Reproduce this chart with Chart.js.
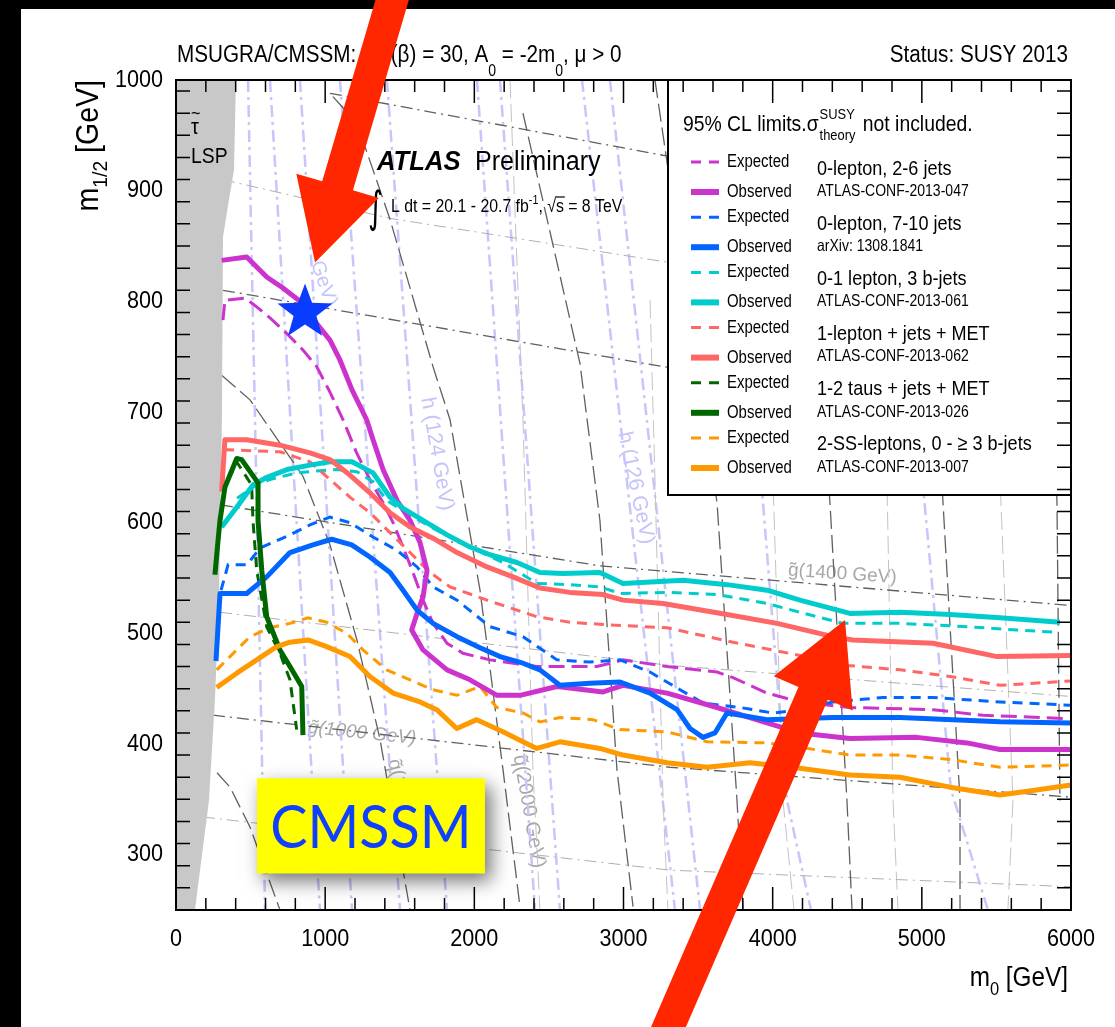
<!DOCTYPE html>
<html>
<head>
<meta charset="utf-8">
<title>ATLAS MSUGRA/CMSSM limits</title>
<script src="https://cdn.jsdelivr.net/npm/chart.js@4.4.1/dist/chart.umd.min.js"></script>
<style>
  html, body { margin: 0; padding: 0; background: #000; }
  canvas { display: block; }
</style>
</head>
<body>
<canvas id="limitChart" width="1115" height="1027"></canvas>
<script>
// [m0, m1/2] in GeV
const exp0lep26 = [[315,783],[328,801],[463,803],[541,795],[630,785],[742,771],[851,756],[943,741],[1032,718],[1120,693],[1211,663],[1300,639],[1388,618],[1455,600],[1522,578],[1589,555],[1656,530],[1723,509],[1817,491],[1924,482],[2105,476],[2420,470],[2822,470],[2997,476],[3292,470],[3627,465],[3734,460],[3962,446],[4183,438],[4518,433],[5075,431],[5410,426],[5973,423]];
const obs0lep26 = [[306,837],[474,840],[608,822],[717,812],[851,798],[943,780],[1032,765],[1099,747],[1180,720],[1278,693],[1321,675],[1388,648],[1482,620],[1569,602],[1636,582],[1683,557],[1656,533],[1616,518],[1580,503],[1656,485],[1817,467],[1971,458],[2152,444],[2306,444],[2554,452],[2863,447],[2997,453],[3292,446],[3627,433],[3962,419],[4183,410],[4518,405],[4967,406],[5303,401],[5524,395],[6000,395]];
const exp7to10 = [[302,539],[349,562],[476,562],[563,577],[764,589],[898,598],[1032,605],[1166,600],[1321,587],[1482,575],[1616,560],[1723,542],[1884,530],[2105,506],[2326,497],[2554,476],[2775,474],[2977,476],[3178,465],[3379,449],[3533,437],[3781,433],[4002,428],[4183,431],[4404,438],[4740,442],[5075,442],[5524,438],[6000,435]];
const obs7to10 = [[268,475],[295,536],[474,536],[608,551],[764,573],[918,580],[1044,585],[1178,580],[1300,569],[1435,555],[1522,539],[1616,521],[1723,509],[1884,497],[2038,487],[2172,479],[2326,473],[2440,467],[2574,453],[2775,455],[2977,456],[3178,446],[3359,431],[3446,414],[3533,406],[3613,410],[3694,428],[3962,422],[4404,424],[4854,424],[5524,420],[6000,419]];
const exp3b = [[410,622],[516,632],[630,639],[811,645],[965,647],[1079,648],[1213,646],[1321,637],[1414,620],[1569,607],[1750,593],[1971,578],[2192,564],[2420,545],[2641,544],[2842,542],[2977,536],[3292,537],[3627,535],[3962,527],[4183,519],[4471,509],[4854,509],[5303,506],[5638,503],[5906,501]];
const obs3b = [[306,596],[407,614],[516,634],[610,641],[744,648],[898,652],[1032,655],[1180,655],[1321,645],[1435,623],[1522,613],[1656,602],[1817,589],[1971,578],[2105,571],[2286,564],[2440,555],[2594,554],[2842,555],[2997,545],[3399,548],[3694,544],[3962,539],[4183,530],[4518,518],[4854,519],[5189,517],[5524,514],[5926,510]];
const exp1lep = [[315,650],[328,666],[697,664],[898,655],[1032,639],[1166,623],[1300,609],[1435,591],[1569,573],[1703,555],[1837,542],[2085,530],[2239,523],[2420,515],[2641,510],[2863,508],[3292,505],[3734,492],[4183,480],[4498,471],[4854,467],[5189,461],[5524,453],[6000,457]];
const obs1lep = [[306,628],[328,675],[474,675],[697,670],[898,663],[1032,657],[1166,643],[1300,627],[1435,609],[1569,596],[1723,586],[1884,573],[2085,560],[2259,551],[2440,541],[2641,537],[2863,535],[2997,530],[3265,527],[3694,517],[4029,509],[4404,497],[4538,494],[5075,491],[5504,479],[6000,480]];
const exp1tau = [[310,610],[328,636],[373,645],[407,655],[507,634],[516,602],[541,557],[608,506],[697,482],[764,458],[809,413]];
const obs1tau = [[261,553],[282,584],[295,602],[328,632],[407,658],[440,657],[550,636],[550,602],[575,557],[608,515],[697,485],[764,470],[843,452],[851,408]];
const exp2ss = [[273,467],[362,479],[496,497],[630,505],[764,509],[885,514],[1010,510],[1144,500],[1254,485],[1412,467],[1569,458],[1723,449],[1882,444],[2038,452],[2150,433],[2326,428],[2440,420],[2574,424],[2795,422],[2977,413],[3292,411],[3560,402],[3962,401],[4183,397],[4518,390],[4854,390],[5189,386],[5524,379],[6000,381]];
const obs2ss = [[273,451],[407,464],[541,476],[675,488],[764,492],[885,494],[1010,488],[1166,479],[1300,461],[1455,446],[1636,438],[1748,431],[1882,414],[2016,422],[2192,411],[2326,402],[2418,396],[2574,402],[2842,396],[2997,390],[3292,383],[3560,379],[3848,383],[4183,378],[4518,372],[4854,370],[5189,361],[5524,354],[5745,358],[6000,363]];

// stau LSP region boundary (filled up to the top)
const lspBoundary = [[0,250],[127,250],[221,349],[261,440],[288,530],[308,693],[315,858],[349,887],[389,919],[402,1000]];

// background mass contours
const higgsContours = [
  [[483,1000],[597,250]], [[630,1000],[965,250]], [[831,1000],[1180,250]],
  [[1099,1000],[1502,250]], [[1414,1000],[1817,250]], [[2018,1000],[2407,250]],
  [[2172,1000],[2574,250]], [[2722,1000],[3345,250]], [[2909,1000],[3513,250]],
  [[3707,1000],[3935,618],[4096,349],[4257,250]],
  [[4760,1000],[5021,614],[5195,359],[5443,250]]
];
const squarkContours = [
  [[275,374],[362,361],[496,325],[697,250]],
  [[308,733],[496,711],[851,642],[1032,580],[1213,494],[1368,404],[1569,250]],
  [[1052,985],[1213,961],[1435,874],[1723,741],[1837,693],[2038,539],[2192,377],[2306,253]],
  [[2326,970],[2708,744],[2842,602],[2956,377],[3064,253]],
  [[3211,1000],[3627,618],[3761,349],[3801,250]],
  [[4183,1000],[4384,618],[4498,349],[4532,250]],
  [[4988,1000],[5142,618],[5256,349],[5256,250]],
  [[5826,1000],[5906,618],[5926,349]]
];
const gluinoContours = [
  [[1032,988],[3265,932],[6000,878]],
  [[315,810],[3265,741],[6000,693]],
  [[302,616],[2842,561],[5926,526],[6000,525]],
  [[248,426],[3312,379],[6000,352]]
];
const faintDashDot = [
  [[315,910],[1435,875],[3265,836],[6000,792]],
  [[295,519],[3312,471],[5993,443]],
  [[181,334],[3312,286],[6000,271]]
];
const faintDash = [
  [[2239,1000],[2326,693],[2393,377],[2440,250]],
  [[3178,801],[3211,639],[3265,349],[3298,250]],
  [[3915,1000],[4002,639],[4069,349],[4143,250]],
  [[4686,1000],[4766,639],[4807,349],[4840,250]],
  [[5490,1000],[5524,639],[5611,349],[5577,250]]
];

const seriesColors = ["#cc33cc", "#0066ff", "#00cccc", "#ff6666", "#006600", "#ff9900"];
const analysisNames = ["0-lepton, 2-6 jets", "0-lepton, 7-10 jets", "0-1 lepton, 3 b-jets",
  "1-lepton + jets + MET", "1-2 taus + jets + MET", "2-SS-leptons, 0 - \u2265 3 b-jets"];
const analysisRefs = ["ATLAS-CONF-2013-047", "arXiv: 1308.1841", "ATLAS-CONF-2013-061",
  "ATLAS-CONF-2013-062", "ATLAS-CONF-2013-026", "ATLAS-CONF-2013-007"];
const expectedCurves = [exp0lep26, exp7to10, exp3b, exp1lep, exp1tau, exp2ss];
const observedCurves = [obs0lep26, obs7to10, obs3b, obs1lep, obs1tau, obs2ss];

const xTickLabels = [0, 1000, 2000, 3000, 4000, 5000, 6000];
const yTickLabels = [300, 400, 500, 600, 700, 800, 900, 1000];
const xMinorStep = 200;
const yMinorStep = 20;

// annotation anchors, in [m0, m1/2]
const benchmarkStar = [865, 790];
const arrowTopLeft = { tail: [1468, 1081], tip: [932, 835] };
const arrowBottom = { tail: [3278, 137], tip: [4485, 512] };
const cmssmBox = { from: [543, 369], to: [2071, 283] };

const contourLabels = [
  { text: "g\u0303(1000 GeV)", at: [885, 415], angle: 6, color: "#a8a8a8", italic: true, size: 19 },
  { text: "g\u0303(1400 GeV)", at: [4103, 557], angle: 4, color: "#a8a8a8", italic: false, size: 19 },
  { text: "q\u0303(2000 GeV)", at: [2299, 390], angle: 80, color: "#a8a8a8", italic: false, size: 20 },
  { text: "q\u0303(1600 GeV)", at: [1455, 386], angle: 76, color: "#a8a8a8", italic: false, size: 20 },
  { text: "h (124 GeV)", at: [1683, 713], angle: 80, color: "#c4c4fa", italic: false, size: 21 },
  { text: "h (126 GeV)", at: [3003, 682], angle: 78, color: "#c4c4fa", italic: false, size: 21 },
  { text: "GeV)", at: [939, 836], angle: 71, color: "#c4c4fa", italic: false, size: 20 }
];

const FONT = '"Liberation Sans", Arial, Helvetica, sans-serif';

function toPts(arr) {
  return arr.map(p => ({ x: p[0], y: p[1] }));
}

// condensed text, like the narrow Helvetica of the original
function txt(ctx, s, x, y, font, sx, align) {
  ctx.save();
  ctx.font = font;
  const w = ctx.measureText(s).width * sx;
  const x0 = align === "right" ? x - w : align === "center" ? x - w / 2 : x;
  ctx.translate(x0, y);
  ctx.scale(sx, 1);
  ctx.textAlign = "left";
  ctx.fillText(s, 0, 0);
  ctx.restore();
  return x0 + w;
}

function richText(ctx, parts, x, y, size, align, subShift, sx) {
  sx = sx || 1;
  const items = parts.map(p => {
    const mode = p[1] || "";
    const s = mode ? size * 0.68 : size;
    ctx.font = `${s}px ${FONT}`;
    return { t: p[0], mode: mode, s: s, w: ctx.measureText(p[0]).width * sx };
  });
  const total = items.reduce((a, it) => a + it.w, 0);
  let cx = align === "right" ? x - total : align === "center" ? x - total / 2 : x;
  ctx.textBaseline = "alphabetic";
  items.forEach(it => {
    const dy = it.mode === "sub" ? size * subShift : it.mode === "sup" ? -size * 0.42 : 0;
    txt(ctx, it.t, cx, y + dy, `${it.s}px ${FONT}`, sx, "left");
    cx += it.w;
  });
  return cx;
}

function drawArrow(ctx, x0, y0, x1, y1, shaftW, headL, headW) {
  const L = Math.hypot(x1 - x0, y1 - y0);
  const ux = (x1 - x0) / L, uy = (y1 - y0) / L;
  const nx = -uy, ny = ux;
  const bx = x1 - ux * headL, by = y1 - uy * headL;
  ctx.beginPath();
  ctx.moveTo(x0 + nx * shaftW / 2, y0 + ny * shaftW / 2);
  ctx.lineTo(bx + nx * shaftW / 2, by + ny * shaftW / 2);
  ctx.lineTo(bx + nx * headW / 2, by + ny * headW / 2);
  ctx.lineTo(x1, y1);
  ctx.lineTo(bx - nx * headW / 2, by - ny * headW / 2);
  ctx.lineTo(bx - nx * shaftW / 2, by - ny * shaftW / 2);
  ctx.lineTo(x0 - nx * shaftW / 2, y0 - ny * shaftW / 2);
  ctx.closePath();
  ctx.fill();
}

function drawStar(ctx, cx, cy, R, r) {
  ctx.beginPath();
  for (let i = 0; i < 10; i++) {
    const a = -Math.PI / 2 + i * Math.PI / 5;
    const rad = i % 2 ? r : R;
    ctx.lineTo(cx + rad * Math.cos(a), cy + rad * Math.sin(a));
  }
  ctx.closePath();
  ctx.fill();
}

const backdropPlugin = {
  id: "backdrop",
  beforeDraw(chart) {
    const ctx = chart.ctx;
    ctx.save();
    ctx.fillStyle = "#000";
    ctx.fillRect(0, 0, chart.width, chart.height);
    ctx.fillStyle = "#fff";
    ctx.fillRect(21, 9, chart.width - 21, chart.height - 9);
    ctx.restore();
  },
  beforeDatasetsDraw(chart) {
    const { ctx, chartArea: a, scales: { x, y } } = chart;
    ctx.save();
    ctx.beginPath();
    ctx.rect(a.left, a.top, a.width, a.height);
    ctx.clip();
    contourLabels.forEach(l => {
      ctx.save();
      ctx.translate(x.getPixelForValue(l.at[0]), y.getPixelForValue(l.at[1]));
      ctx.rotate(l.angle * Math.PI / 180);
      ctx.font = `${l.italic ? "italic " : ""}${l.size}px ${FONT}`;
      ctx.fillStyle = l.color;
      ctx.textBaseline = "middle";
      ctx.fillText(l.text, 0, 0);
      ctx.restore();
    });
    ctx.restore();
  }
};

function drawLegend(ctx, a) {
  const left = 668, bottom = 495;
  ctx.save();
  ctx.fillStyle = "#fff";
  ctx.fillRect(left, a.top, a.right - left, bottom - a.top);
  ctx.strokeStyle = "#000";
  ctx.lineWidth = 2;
  ctx.strokeRect(left, a.top, a.right - left, bottom - a.top);

  ctx.fillStyle = "#000";
  ctx.textBaseline = "alphabetic";
  let cx = txt(ctx, "95% CL limits.\u03C3", 683, a.top + 51, `22.5px ${FONT}`, 0.86, "left");
  txt(ctx, "SUSY", cx + 1, a.top + 39, `15px ${FONT}`, 0.86, "left");
  cx = txt(ctx, "theory", cx + 1, a.top + 60, `15px ${FONT}`, 0.86, "left");
  txt(ctx, " not included.", cx + 2, a.top + 51, `22.5px ${FONT}`, 0.86, "left");

  seriesColors.forEach((c, i) => {
    const ye = a.top + 82 + i * 55.2;
    const yo = a.top + 112 + i * 55.2;
    ctx.strokeStyle = c;
    ctx.lineWidth = 3;
    ctx.setLineDash([10, 8]);
    ctx.beginPath();
    ctx.moveTo(691, ye);
    ctx.lineTo(719, ye);
    ctx.stroke();
    ctx.setLineDash([]);
    ctx.lineWidth = 6;
    ctx.beginPath();
    ctx.moveTo(691, yo);
    ctx.lineTo(719, yo);
    ctx.stroke();

    ctx.fillStyle = "#000";
    ctx.textBaseline = "middle";
    txt(ctx, "Expected", 727, ye, `18px ${FONT}`, 0.83, "left");
    txt(ctx, "Observed", 727, yo, `18px ${FONT}`, 0.83, "left");
    txt(ctx, analysisNames[i], 817, a.top + 89 + i * 55.1, `21px ${FONT}`, 0.86, "left");
    txt(ctx, analysisRefs[i], 817, a.top + 111 + i * 55.3, `16.5px ${FONT}`, 0.85, "left");
  });
  ctx.restore();
}

function drawFrame(ctx, a, x, y) {
  ctx.save();
  ctx.strokeStyle = "#000";
  ctx.lineWidth = 1.5;
  ctx.beginPath();
  for (let v = x.min; v <= x.max; v += xMinorStep) {
    const px = x.getPixelForValue(v);
    const len = xTickLabels.includes(v) ? 23 : 12;
    ctx.moveTo(px, a.bottom); ctx.lineTo(px, a.bottom - len);
    ctx.moveTo(px, a.top); ctx.lineTo(px, a.top + len);
  }
  for (let v = y.min; v <= y.max; v += yMinorStep) {
    const py = y.getPixelForValue(v);
    const len = yTickLabels.includes(v) ? 27 : 14;
    ctx.moveTo(a.left, py); ctx.lineTo(a.left + len, py);
    ctx.moveTo(a.right, py); ctx.lineTo(a.right - len, py);
  }
  ctx.stroke();
  ctx.lineWidth = 2;
  ctx.strokeRect(a.left, a.top, a.width, a.height);

  ctx.fillStyle = "#000";
  ctx.textBaseline = "alphabetic";
  xTickLabels.forEach(v => txt(ctx, String(v), x.getPixelForValue(v), a.bottom + 36, `24px ${FONT}`, 0.9, "center"));
  ctx.textBaseline = "middle";
  yTickLabels.forEach(v => txt(ctx, String(v), a.left - 13, y.getPixelForValue(v), `24px ${FONT}`, 0.9, "right"));

  // axis titles
  richText(ctx, [["m"], ["0", "sub"], [" [GeV]"]], a.right - 3, a.bottom + 76, 27, "right", 0.34, 0.9);
  ctx.save();
  ctx.translate(98, a.top);
  ctx.rotate(-Math.PI / 2);
  richText(ctx, [["m"], ["1/2", "sub"], [" [GeV]"]], 0, 0, 31, "right", 0.3, 0.92);
  ctx.restore();
  ctx.restore();
}

function drawTexts(ctx, a) {
  ctx.save();
  ctx.fillStyle = "#000";
  richText(ctx, [["MSUGRA/CMSSM: tan(\u03B2) = 30, A"], ["0", "sub"], [" = -2m"], ["0", "sub"], [", \u03BC > 0"]],
    a.left + 1, 62, 23.5, "left", 0.58, 0.88);
  richText(ctx, [["Status: SUSY 2013"]], a.right - 3, 62, 23.5, "right", 0, 0.88);

  ctx.textBaseline = "alphabetic";
  const tauEnd = txt(ctx, "\u03C4", 191, 134, `22px ${FONT}`, 0.9, "left");
  txt(ctx, "~", 191, 119, `18px ${FONT}`, 0.9, "left");
  txt(ctx, "LSP", 191, 163, `22px ${FONT}`, 0.88, "left");

  txt(ctx, "ATLAS", 377, 170, `italic bold 27px ${FONT}`, 0.95, "left");
  txt(ctx, "Preliminary", 475, 170, `27px ${FONT}`, 0.93, "left");

  ctx.save();
  ctx.translate(368, 222);
  ctx.scale(0.9, 1.35);
  ctx.font = `32px "DejaVu Sans", ${FONT}`;
  ctx.fillText("\u222B", 0, 0);
  ctx.restore();
  let cx = richText(ctx, [["L dt = 20.1 - 20.7 fb"], ["-1", "sup"], [", "]], 391, 212, 18, "left", 0, 0.88);
  ctx.font = `18px ${FONT}`;
  const wr = ctx.measureText("\u221A").width * 0.88;
  const ws = ctx.measureText("s").width * 0.88;
  txt(ctx, "\u221A", cx, 212, `18px ${FONT}`, 0.88, "left");
  txt(ctx, "s = 8 TeV", cx + wr, 212, `18px ${FONT}`, 0.88, "left");
  ctx.strokeStyle = "#000";
  ctx.lineWidth = 1.2;
  ctx.beginPath();
  ctx.moveTo(cx + wr - 1, 197);
  ctx.lineTo(cx + wr + ws + 1, 197);
  ctx.stroke();
  ctx.restore();
}

const overlayPlugin = {
  id: "overlay",
  afterDatasetsDraw(chart) {
    const { ctx, chartArea: a, scales: { x, y } } = chart;
    drawLegend(ctx, a);
    drawFrame(ctx, a, x, y);
    drawTexts(ctx, a);

    // CMSSM label box
    const bx0 = x.getPixelForValue(cmssmBox.from[0]), by0 = y.getPixelForValue(cmssmBox.from[1]);
    const bx1 = x.getPixelForValue(cmssmBox.to[0]), by1 = y.getPixelForValue(cmssmBox.to[1]);
    ctx.save();
    ctx.shadowColor = "rgba(0,0,0,0.55)";
    ctx.shadowBlur = 18;
    ctx.shadowOffsetX = 6;
    ctx.shadowOffsetY = 8;
    ctx.fillStyle = "#ffff00";
    ctx.fillRect(bx0, by0, bx1 - bx0, by1 - by0);
    ctx.restore();
    ctx.save();
    ctx.fillStyle = "#1040ff";
    ctx.textBaseline = "middle";
    txt(ctx, "CMSSM", (bx0 + bx1) / 2, (by0 + by1) / 2 + 3, `60px Lato, "Open Sans", sans-serif`, 0.93, "center");

    // benchmark star
    ctx.fillStyle = "#0a3cff";
    drawStar(ctx, x.getPixelForValue(benchmarkStar[0]), y.getPixelForValue(benchmarkStar[1]), 29, 12);

    // red arrows
    ctx.fillStyle = "#ff2600";
    [arrowTopLeft, arrowBottom].forEach(ar => {
      drawArrow(ctx,
        x.getPixelForValue(ar.tail[0]), y.getPixelForValue(ar.tail[1]),
        x.getPixelForValue(ar.tip[0]), y.getPixelForValue(ar.tip[1]),
        32, 80, 86);
    });
    ctx.restore();
  }
};

const datasets = [];
function addLines(list, style) {
  list.forEach(c => datasets.push(Object.assign({ data: toPts(c) }, style)));
}
addLines(higgsContours, { borderColor: "#c6c6fb", borderWidth: 2.5, borderDash: [12, 5, 3, 5], order: 60 });
addLines(faintDash, { borderColor: "#c4c4c4", borderWidth: 1, borderDash: [18, 6], order: 59 });
addLines(faintDashDot, { borderColor: "#b0b0b0", borderWidth: 1, borderDash: [12, 5, 2, 5], order: 58 });
addLines(squarkContours, { borderColor: "#606060", borderWidth: 1.3, borderDash: [18, 6], order: 57 });
addLines(gluinoContours, { borderColor: "#606060", borderWidth: 1.3, borderDash: [12, 5, 2, 5], order: 56 });

datasets.push({
  data: toPts(lspBoundary),
  borderWidth: 0,
  borderColor: "rgba(0,0,0,0)",
  backgroundColor: "#c8c8c8",
  fill: "end",
  order: 40
});

expectedCurves.forEach((c, i) => datasets.push({
  data: toPts(c),
  borderColor: seriesColors[i],
  borderWidth: 3,
  borderDash: i === 0 ? [16, 7] : [10, 7],
  order: 35 - i
}));
observedCurves.forEach((c, i) => datasets.push({
  data: toPts(c),
  borderColor: seriesColors[i],
  borderWidth: 5,
  borderJoinStyle: "round",
  order: 20 - i
}));

const ctx = document.getElementById("limitChart").getContext("2d");
new Chart(ctx, {
  type: "scatter",
  data: { datasets: datasets },
  options: {
    responsive: false,
    devicePixelRatio: 1,
    animation: false,
    events: [],
    layout: { padding: { left: 176, top: 80, right: 44, bottom: 117 } },
    elements: {
      point: { radius: 0, hoverRadius: 0 },
      line: { tension: 0, fill: false }
    },
    datasets: { scatter: { showLine: true } },
    scales: {
      x: { type: "linear", min: 0, max: 6000, display: false },
      y: { type: "linear", min: 250, max: 1000, display: false }
    },
    plugins: {
      legend: { display: false },
      tooltip: { enabled: false }
    }
  },
  plugins: [backdropPlugin, overlayPlugin]
});
</script>
</body>
</html>
